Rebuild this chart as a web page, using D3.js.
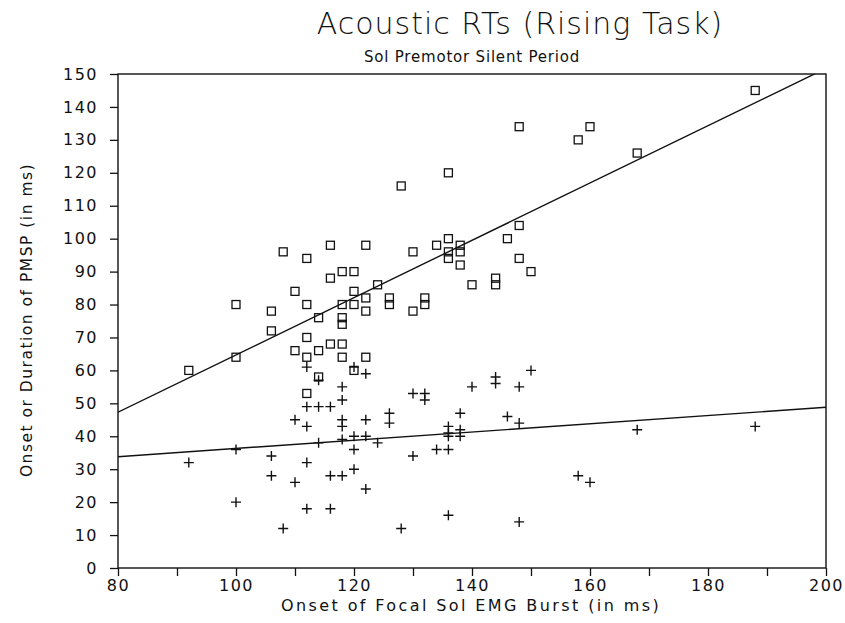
<!DOCTYPE html>
<html>
<head>
<meta charset="utf-8">
<script src="https://cdn.jsdelivr.net/npm/d3@7"></script>
<style>
  body { margin: 0; background: #fff; }
  text { font-family: "DejaVu Sans", sans-serif; fill: #111; }
</style>
</head>
<body>
<svg id="chart" width="845" height="623"></svg>
<script>
// squares: premotor silent period duration vs onset of focal burst
var squareX = [92, 100, 100, 106, 106, 108, 112, 116, 122, 130, 134, 136, 136, 136, 138, 138, 138, 140,
    110, 116, 118, 120, 120, 124, 122, 122, 120, 118, 118, 118, 126, 126, 132, 132, 130, 112, 114, 112,
    118, 116, 110, 112, 114, 118, 122, 120, 114, 112,
    144, 144, 146, 148, 148, 150, 128, 136, 148, 160, 158, 168, 188];
var squareY = [60, 64, 80, 78, 72, 96, 94, 98, 98, 96, 98, 100, 96, 94, 98, 96, 92, 86,
    84, 88, 90, 90, 84, 86, 82, 78, 80, 80, 76, 74, 82, 80, 82, 80, 78, 80, 76, 70,
    68, 68, 66, 64, 66, 64, 64, 60, 58, 53,
    88, 86, 100, 104, 94, 90, 116, 120, 134, 134, 130, 126, 145];

// crosses: onset of PMSP
var crossX = [92, 100, 100, 106, 106,
    112, 114, 120, 122, 118, 118, 112, 114, 116, 110, 112, 118, 118, 122, 126, 126, 130, 132, 132, 140,
    138, 136, 136, 136, 138, 138, 114, 118, 120, 122, 120, 124,
    110, 112, 116, 118, 120, 122, 112, 116, 108, 128, 130, 134, 136, 136,
    144, 144, 150, 148, 146, 148, 158, 160, 148, 168, 188];
var crossY = [32, 36, 20, 34, 28,
    61, 57, 61, 59, 55, 51, 49, 49, 49, 45, 43, 45, 43, 45, 47, 44, 53, 53, 51, 55,
    47, 43, 41, 40, 42, 40, 38, 39, 40, 40, 36, 38,
    26, 32, 28, 28, 30, 24, 18, 18, 12, 12, 34, 36, 36, 16,
    58, 56, 60, 55, 46, 44, 28, 26, 14, 42, 43];

// fitted lines read at both ends of the x range
var fitX = [80, 200];
var squareFit = [47.3, 151.7];
var crossFit = [33.8, 48.8];

var xTicks = d3.range(80, 201, 10);
var xLabels = d3.range(80, 201, 20);
var yTicks = d3.range(0, 151, 10);

var svg = d3.select("#chart");
var margin = { top: 74, right: 19, bottom: 55, left: 118 };
var width = +svg.attr("width") - margin.left - margin.right;
var height = +svg.attr("height") - margin.top - margin.bottom;

var x = d3.scaleLinear().domain([80, 200]).range([0, width]);
var y = d3.scaleLinear().domain([0, 150]).range([height, 0]);

var g = svg.append("g").attr("transform", "translate(" + margin.left + "," + margin.top + ")");

g.append("clipPath").attr("id", "plotClip")
    .append("rect").attr("width", width).attr("height", height);

// frame
g.append("rect")
    .attr("width", width)
    .attr("height", height)
    .attr("fill", "none")
    .attr("stroke", "#111")
    .attr("stroke-width", 1.4);

// x axis: ticks every 10, labels every 20
var xAxis = g.append("g")
    .attr("transform", "translate(0," + height + ")")
    .call(d3.axisBottom(x).tickValues(xTicks).tickSize(8)
        .tickFormat(d => xLabels.indexOf(d) >= 0 ? d : ""));
xAxis.select(".domain").remove();
xAxis.selectAll("line").attr("stroke", "#111").attr("stroke-width", 1.3);
xAxis.selectAll("text")
    .attr("y", 12)
    .style("font-size", "16px")
    .style("letter-spacing", "1.5px")
    .style("font-family", "DejaVu Sans, sans-serif");

var yAxis = g.append("g")
    .call(d3.axisLeft(y).tickValues(yTicks).tickSize(8));
yAxis.select(".domain").remove();
yAxis.selectAll("line").attr("stroke", "#111").attr("stroke-width", 1.3);
yAxis.selectAll("text")
    .attr("x", -20)
    .style("font-size", "16px")
    .style("letter-spacing", "1.5px")
    .style("font-family", "DejaVu Sans, sans-serif");

var plot = g.append("g").attr("clip-path", "url(#plotClip)");

// regression lines
[squareFit, crossFit].forEach(function (fit) {
    plot.append("line")
        .attr("x1", x(fitX[0]))
        .attr("y1", y(fit[0]))
        .attr("x2", x(fitX[1]))
        .attr("y2", y(fit[1]))
        .attr("stroke", "#111")
        .attr("stroke-width", 1.4);
});

var squares = squareX.map((d, i) => ({ x: d, y: squareY[i] }));
var crosses = crossX.map((d, i) => ({ x: d, y: crossY[i] }));

plot.selectAll(".sq").data(squares).enter()
    .append("rect")
    .attr("class", "sq")
    .attr("x", d => x(d.x) - 4)
    .attr("y", d => y(d.y) - 4)
    .attr("width", 8)
    .attr("height", 8)
    .attr("fill", "none")
    .attr("stroke", "#111")
    .attr("stroke-width", 1.3);

plot.selectAll(".cr").data(crosses).enter()
    .append("path")
    .attr("class", "cr")
    .attr("d", d => "M" + (x(d.x) - 5) + "," + y(d.y) + "h10M" + x(d.x) + "," + (y(d.y) - 5) + "v10")
    .attr("stroke", "#111")
    .attr("stroke-width", 1.4);

// titles
svg.append("text")
    .attr("x", 520)
    .attr("y", 34)
    .attr("text-anchor", "middle")
    .style("font-size", "30px")
    .style("font-weight", 200)
    .style("letter-spacing", "1px")
    .text("Acoustic RTs (Rising Task)");

svg.append("text")
    .attr("x", 472)
    .attr("y", 62)
    .attr("text-anchor", "middle")
    .style("font-size", "15px")
    .style("letter-spacing", "0.8px")
    .text("Sol Premotor Silent Period");

svg.append("text")
    .attr("x", 471)
    .attr("y", 611)
    .attr("text-anchor", "middle")
    .style("font-size", "16px")
    .style("letter-spacing", "2.4px")
    .text("Onset of Focal Sol EMG Burst (in ms)");

svg.append("text")
    .attr("transform", "translate(32,320) rotate(-90)")
    .attr("text-anchor", "middle")
    .style("font-size", "15.5px")
    .style("letter-spacing", "1.5px")
    .text("Onset or Duration of PMSP (in ms)");
</script>
</body>
</html>
